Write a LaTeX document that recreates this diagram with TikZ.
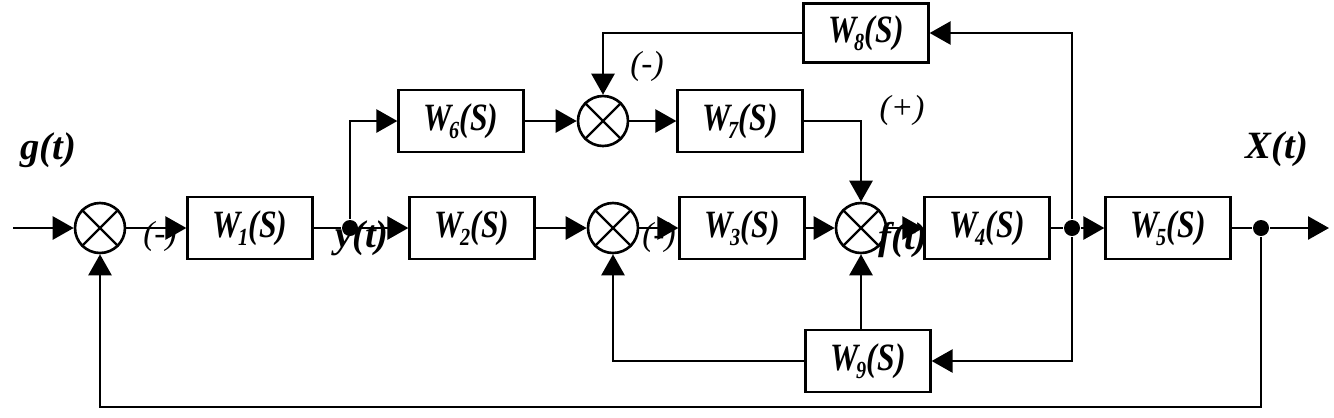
\documentclass[tikz,border=0pt]{standalone}
\usepackage{fontspec}
\setmainfont{Liberation Serif}
\usepackage{graphicx}
\usetikzlibrary{arrows.meta}
\newcommand{\Wn}[1]{\scalebox{0.82}[1]{\textit{W}\kern-0.08em\raisebox{-0.22em}{\fontsize{14}{14}\selectfont\textit{#1}}\kern0.02em\textit{(S)}}}
\begin{document}
\begin{tikzpicture}[x=0.02cm,y=-0.02cm,
  line width=1.5pt,
  tip/.style={-{Triangle[length=4.2mm,width=4.6mm]}},
  blk/.style={draw, line width=1.3pt, minimum width=2.5cm, minimum height=1.24cm, inner sep=0pt, font=\fontsize{22}{26}\selectfont\bfseries\itshape},
  sumj/.style={draw, circle, line width=1.5pt, minimum size=1cm, inner sep=0pt},
  dotj/.style={circle, fill, minimum size=0.32cm, inner sep=0pt},
  lbl/.style={font=\fontsize{22}{26}\selectfont\bfseries\itshape, inner sep=0pt},
  sgn/.style={font=\fontsize{19}{22}\selectfont\itshape, inner sep=0pt}]
\useasboundingbox (0,0) rectangle (1334,417);

% main row
\coordinate (in) at (13,228);
\node[sumj] (s1) at (100,228) {};
\node[blk] (W1) at (250,228) {\Wn{1}};
\node[dotj] (j1) at (350,228) {};
\node[blk] (W2) at (472,228) {\Wn{2}};
\node[sumj] (s2) at (613,228) {};
\node[blk] (W3) at (742,228) {\Wn{3}};
\node[sumj] (s3) at (861,228) {};
\node[blk] (W4) at (987,228) {\Wn{4}};
\node[dotj] (j2) at (1072,228) {};
\node[blk] (W5) at (1168,228) {\Wn{5}};
\node[dotj] (j3) at (1261,228) {};
\coordinate (out) at (1329,228);

% upper rows
\node[blk] (W6) at (461,121) {\Wn{6}};
\node[sumj] (s4) at (603,121) {};
\node[blk] (W7) at (740,121) {\Wn{7}};
\node[blk, minimum height=1.18cm] (W8) at (866,33) {\Wn{8}};

% lower row
\node[blk] (W9) at (868,361) {\Wn{9}};
\coordinate (bot) at (0,407);

% crosses in summing junctions
\foreach \s in {s1,s2,s3,s4}
  \draw[line width=1.3pt] (\s.45) -- (\s.225) (\s.135) -- (\s.315);

% connectors
\draw[tip] (in) -- (s1.west);
\draw[tip] (s1.east) -- (W1.west);
\draw (W1.east) -- (j1);
\draw[tip] (j1) -- (W2.west);
\draw[tip] (j1) |- (W6.west);
\draw[tip] (W2.east) -- (s2.west);
\draw[tip] (s2.east) -- (W3.west);
\draw[tip] (W3.east) -- (s3.west);
\draw[tip] (s3.east) -- (W4.west);
\draw (W4.east) -- (j2);
\draw[tip] (j2) -- (W5.west);
\draw (W5.east) -- (j3);
\draw[tip] (j3) -- (out);
\draw[tip] (W6.east) -- (s4.west);
\draw[tip] (s4.east) -- (W7.west);
\draw[tip] (W7.east) -| (s3.north);
\draw[tip] (j2) |- (W8.east);
\draw[tip] (W8.west) -| (s4.north);
\draw[tip] (j2) |- (W9.east);
\draw[tip] (W9.west) -| (s2.south);
\draw[tip] (W9.north -| s3.south) -- (s3.south);
\draw[tip] (j3) -- (j3 |- bot) -| (s1.south);

% labels
\node[lbl] (gt) at (48,150) {g(t)};
\node[lbl] (Xt) at (1277,149) {X(t)};
\node[lbl] (yt) at (362,238) {y(t)};
\node[lbl] (ft) at (903,240) {f(t)};
\node[sgn] (m1) at (160,236) {(-)};
\node[sgn] (m2) at (659,237) {(-)};
\node[sgn] (m3) at (647,66) {(-)};
\node[sgn] (p1) at (902,110) {(+)};
\end{tikzpicture}
\end{document}
